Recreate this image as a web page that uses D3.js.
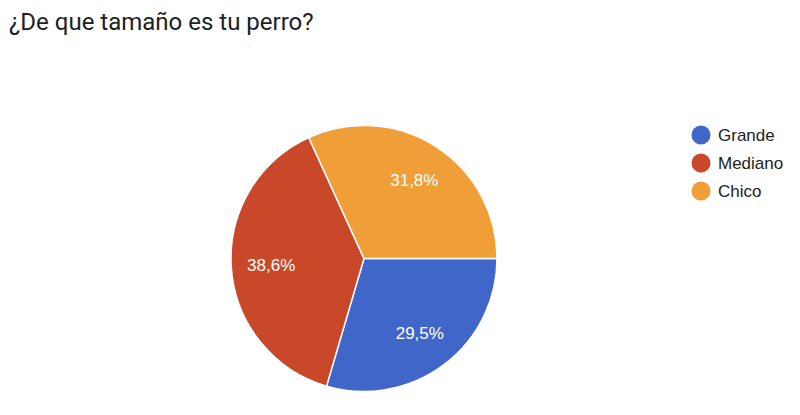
<!DOCTYPE html>
<html>
<head>
<meta charset="utf-8">
<script src="https://cdn.jsdelivr.net/npm/d3@7"></script>
<style>
  body { margin: 0; background: #fff; }
  svg { display: block; }
</style>
</head>
<body>
<div id="chart"></div>
<script>
// Data (44 answers)
var categories = ["Grande", "Mediano", "Chico"];
var counts = [13, 17, 14];
var colors = ["#4166c9", "#c9482a", "#ef9e38"];

var w = 800, h = 415;
var cx = 364, cy = 258.5, r = 133;

var svg = d3.select("#chart")
            .append("svg")
            .attr("width", w)
            .attr("height", h);

// Title
svg.append("text")
    .attr("x", 9)
    .attr("y", 30)
    .style("font-family", "Roboto, 'Open Sans', sans-serif")
    .style("font-size", "24px")
    .style("fill", "#202124")
    .text("¿De que tamaño es tu perro?");

var total = d3.sum(counts);
var dataset = categories.map(function(c, i) {
    return { name: c, value: counts[i], color: colors[i] };
});

// pie starts at 3 o'clock, clockwise
var pie = d3.pie()
            .sort(null)
            .value(function(d) { return d.value; })
            .startAngle(Math.PI / 2)
            .endAngle(Math.PI / 2 + 2 * Math.PI);

var arc = d3.arc().innerRadius(0).outerRadius(r);
var labelArc = d3.arc().innerRadius(r * 0.7).outerRadius(r * 0.7);

var g = svg.append("g")
           .attr("transform", "translate(" + cx + "," + cy + ")");

g.selectAll("path")
    .data(pie(dataset))
    .enter()
    .append("path")
        .attr("d", arc)
        .style("fill", function(d) { return d.data.color; })
        .style("stroke", "#fff")
        .style("stroke-width", 1.5);

var fmt = function(v) {
    return (v / total * 100).toFixed(1).replace(".", ",") + "%";
};

g.selectAll("text")
    .data(pie(dataset))
    .enter()
    .append("text")
        .attr("transform", function(d) { return "translate(" + labelArc.centroid(d) + ")"; })
        .attr("text-anchor", "middle")
        .attr("dy", "0.35em")
        .style("font-family", "Arial, 'Liberation Sans', sans-serif")
        .style("font-size", "17px")
        .style("fill", "#fff")
        .text(function(d) { return fmt(d.data.value); });

// Legend
var legend = svg.append("g")
    .selectAll("g")
    .data(dataset)
    .enter()
    .append("g")
        .attr("transform", function(d, i) { return "translate(701," + (135 + i * 28) + ")"; });

legend.append("circle")
    .attr("r", 9.5)
    .style("fill", function(d) { return d.color; });

legend.append("text")
    .attr("x", 17)
    .attr("dy", "0.35em")
    .style("font-family", "Arial, 'Liberation Sans', sans-serif")
    .style("font-size", "17px")
    .style("fill", "#222")
    .text(function(d) { return d.name; });
</script>
</body>
</html>
